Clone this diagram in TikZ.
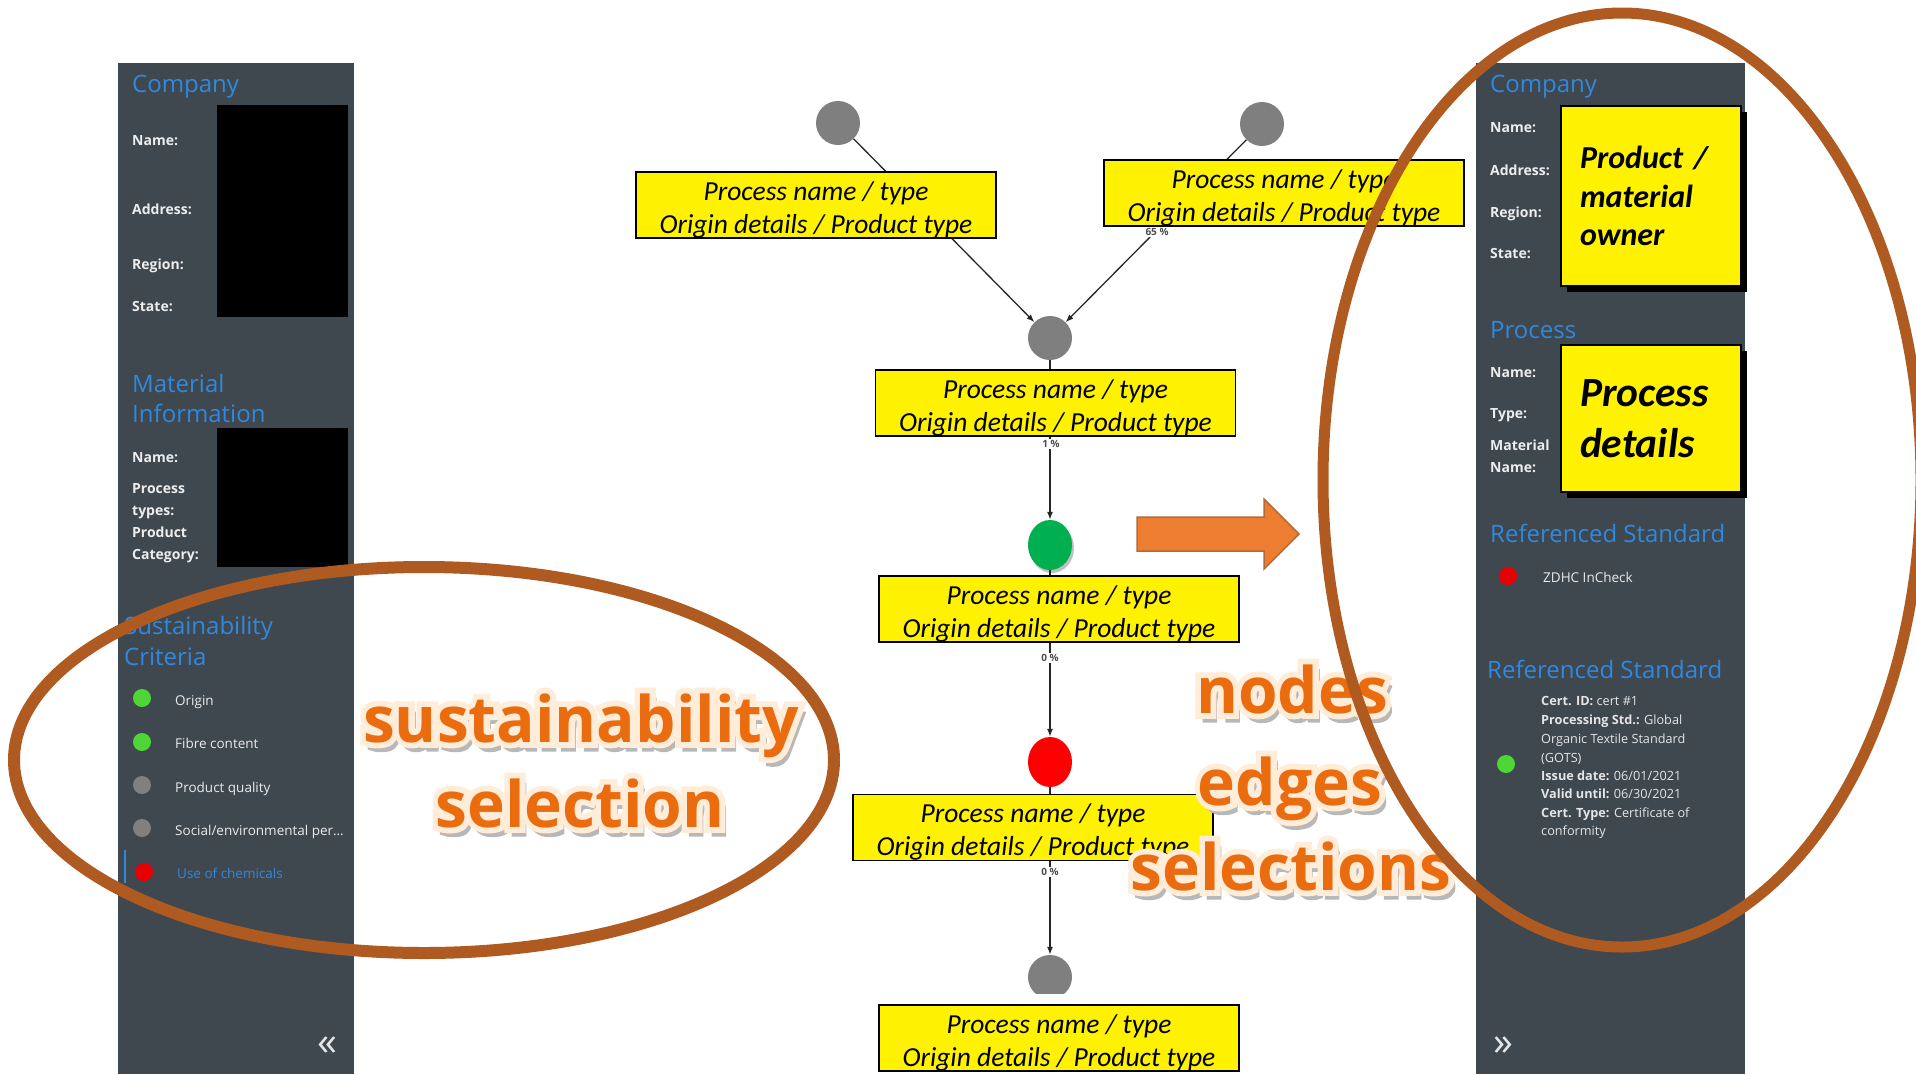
\documentclass[tikz,border=0pt]{standalone}
\usepackage{fontspec}
\setmainfont{Open Sans}
\newfontfamily\calfont{Carlito}
\newfontfamily\haloface{Open Sans}[FakeBold=18]
\newfontfamily\shadeface{Open Sans}[FakeBold=8]
\usetikzlibrary{arrows.meta,shapes.geometric,shadows}
\definecolor{panelgray}{RGB}{63,71,79}
\definecolor{headblue}{RGB}{50,136,220}
\definecolor{litegreen}{RGB}{78,214,54}
\definecolor{dotred}{RGB}{232,0,0}
\definecolor{dotgray}{RGB}{128,128,128}
\definecolor{ringbrown}{RGB}{174,90,33}
\definecolor{arroworange}{RGB}{237,125,49}
\definecolor{wordorange}{RGB}{234,108,14}
\definecolor{stagegreen}{RGB}{0,176,80}
\definecolor{stagegray}{RGB}{127,127,127}
\tikzset{
  sechead/.style={anchor=base west,inner sep=0,text=headblue,font=\fontsize{24}{28}\selectfont},
  lbl/.style={anchor=base west,inner sep=0,text=white!93!black,font=\bfseries\fontsize{14}{16}\selectfont},
  crit/.style={anchor=base west,inner sep=0,text=white!92!black,font=\fontsize{13.5}{16}\selectfont},
  cert/.style={anchor=base west,inner sep=0,text=white!90!black,font=\fontsize{12.7}{15}\selectfont},
  lamp/.style={circle,inner sep=0,minimum size=18},
  procdot/.style={ellipse,inner sep=0,minimum width=44,minimum height=44,fill=stagegray},
  procbox/.style={draw=black,line width=1.2,fill=yellow,minimum width=360,minimum height=66,inner sep=0,align=center,
    font=\calfont\itshape\fontsize{27.5}{33}\selectfont},
  notebox/.style={draw=black,line width=1.2,fill=yellow,minimum width=180,inner xsep=19,inner ysep=0,text width=142,align=left,
    drop shadow={shadow xshift=6pt,shadow yshift=-6pt,fill=black,opacity=1}},
  link/.style={->,line width=1.3,draw=black!85},
  pct/.style={inner sep=1,fill=white,text=black!70,font=\bfseries\fontsize{10}{11}\selectfont},
  fold/.style={text=white!90!black,inner sep=0,font=\fontsize{40}{42}\selectfont},
  bigword/.style={anchor=base,inner sep=0,font=\bfseries\fontsize{64}{70}\selectfont},
}
% orange word with halo and shadow
\newcommand\glowword[4]{%
  \node[bigword,text=black!28] (#1s) at (#2+4,#3+7) {\shadeface\bfseries #4};
  \node[bigword,text=white!85!orange] (#1g) at (#2,#3) {\haloface\bfseries #4};
  \node[bigword,text=wordorange] (#1) at (#2,#3) {#4};}
\newcommand\proclines{\rule{0pt}{28pt}Process name / type\\Origin details / Product type}
\begin{document}
\begin{tikzpicture}[x=1pt,y=-1pt,>={Latex[length=8pt,width=6pt]}]
\useasboundingbox (0,0) rectangle (1916,1074);
% left panel
\fill[panelgray] (118,63) rectangle (354,1074);
\fill[black] (217,105) rectangle (348,317); \fill[black] (217,428) rectangle (348,567);
\node[sechead] (lcompany) at (132,92) {Company};
\node[lbl] (lname) at (132,145) {Name:}; \node[lbl] (laddr) at (132,214) {Address:};
\node[lbl] (lregion) at (132,269) {Region:}; \node[lbl] (lstate) at (132,311) {State:};
\node[sechead] (lmat) at (132,392) {Material}; \node[sechead] (linfo) at (132,422) {Information};
\node[lbl] (lmname) at (132,462) {Name:}; \node[lbl] (lproc) at (132,493) {Process}; \node[lbl] (ltypes) at (132,515) {types:};
\node[lbl] (lprod) at (132,537) {Product}; \node[lbl] (lcat) at (132,559) {Category:};
\node[sechead] (lsust) at (124,634) {Sustainability}; \node[sechead] (lcrit) at (124,665) {Criteria};
\node[lamp,fill=litegreen] (dorig) at (142,698) {}; \node[crit] (torig) at (175,705) {Origin};
\node[lamp,fill=litegreen] (dfibre) at (142,742) {}; \node[crit] (tfibre) at (175,748) {Fibre content};
\node[lamp,fill=dotgray] (dqual) at (142,785) {}; \node[crit] (tqual) at (175,792) {Product quality};
\node[lamp,fill=dotgray] (dsoc) at (142,828) {}; \node[crit] (tsoc) at (175,835) {Social/environmental per…};
\node[lamp,fill=dotred] (dchem) at (144,872) {}; \node[crit,text=headblue] (tchem) at (177,878) {Use of chemicals};
\draw[headblue,line width=2] (125,850) -- (125,883);
\node[fold] (lfold) at (327,1046) {«};
% right panel
\fill[panelgray] (1476,63) rectangle (1745,1074);
\node[sechead] (rcompany) at (1490,92) {Company};
\node[lbl] (rname) at (1490,132) {Name:}; \node[lbl] (raddr) at (1490,175) {Address:};
\node[lbl] (rregion) at (1490,217) {Region:}; \node[lbl] (rstate) at (1490,258) {State:};
\node[notebox,minimum height=180,font=\calfont\bfseries\itshape\fontsize{32}{38.5}\selectfont] (owner) at (1651,196) {Product /\\material\\owner};
\node[sechead] (rproc) at (1490,338) {Process};
\node[lbl] (rpname) at (1490,377) {Name:}; \node[lbl] (rtype) at (1490,418) {Type:};
\node[lbl] (rmat) at (1490,450) {Material}; \node[lbl] (rmname) at (1490,472) {Name:};
\node[notebox,minimum height=147,font=\calfont\bfseries\itshape\fontsize{41.5}{51}\selectfont] (details) at (1651,418.5) {Process\\details};
\node[sechead] (rstdA) at (1490,542) {Referenced Standard};
\node[lamp,fill=dotred] (zdot) at (1508,576) {}; \node[crit] (zdhc) at (1543,582) {ZDHC InCheck};
\node[sechead] (rstdB) at (1487,678) {Referenced Standard};
\node[lamp,fill=litegreen] (gdot) at (1506,764) {};
\node[cert] (certA) at (1541,705) {\textbf{Cert. ID:} cert \#1};
\node[cert] (certB) at (1541,724) {\textbf{Processing Std.:} Global};
\node[cert] (certC) at (1541,743) {Organic Textile Standard};
\node[cert] (certD) at (1541,762) {(GOTS)};
\node[cert] (certE) at (1541,780) {\textbf{Issue date:} 06/01/2021};
\node[cert] (certF) at (1541,798) {\textbf{Valid until:} 06/30/2021};
\node[cert] (certG) at (1541,817) {\textbf{Cert. Type:} Certificate of};
\node[cert] (certH) at (1541,835) {conformity};
\node[fold] (rfold) at (1503,1046) {»};
% process graph
\node[procdot] (cA) at (838,123) {}; \node[procdot] (cB) at (1262,124) {};
\node[procdot] (cC) at (1050,338) {};
\node[procdot,fill=stagegreen,minimum height=50,drop shadow={shadow xshift=2pt,shadow yshift=-3pt,opacity=.5}] (cD) at (1050,545) {};
\node[procdot,fill=red,minimum height=50] (cE) at (1050,762) {};
\begin{scope} \clip (0,0) rectangle (1916,993); \node[procdot] (cF) at (1050,977) {}; \end{scope}
\draw[link] (cA) -- (cC); \draw[link] (cB) -- (cC); \draw[link] (cC) -- (cD);
\draw[link] (cD) -- (cE); \draw[link] (cE) -- (cF);
\node[pct] (pB) at (1157,232) {65 \%}; \node[pct] (pC) at (1051,444) {1 \%};
\node[pct] (pD) at (1050,658) {0 \%}; \node[pct] (pE) at (1050,872) {0 \%};
\node[procbox] (bA) at (816,205) {\proclines};
\node[procbox] (bB) at (1284,193) {\proclines};
\node[procbox] (bC) at (1055.5,403) {\proclines};
\node[procbox] (bD) at (1059,609) {\proclines};
\node[procbox] (bE) at (1033,827.5) {\proclines};
\node[procbox] (bF) at (1059,1038) {\proclines};
% block arrow
\draw[draw=ringbrown!90,line width=1.5,fill=arroworange] (1137,517) -- (1264,517) -- (1264,499) -- (1299,534) -- (1264,569) -- (1264,551) -- (1137,551) -- cycle;
% callout words
\glowword{wsust}{581}{742}{sustainability}
\glowword{wsel}{580}{827}{selection}
\glowword{wnodes}{1292}{713}{nodes}
\glowword{wedges}{1290}{805}{edges}
\glowword{wsels}{1291}{890}{selections}
% rings
\draw[ringbrown,line width=12] (424,760) ellipse [x radius=410,y radius=193];
\draw[ringbrown,line width=11] (1622,480) ellipse [x radius=299,y radius=467];
\end{tikzpicture}
\end{document}
